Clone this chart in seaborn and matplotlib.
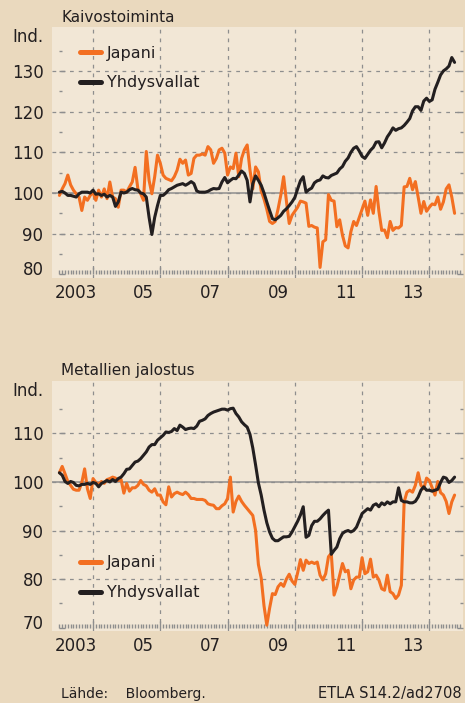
import numpy as np
import pandas as pd
import matplotlib
matplotlib.use("Agg")
import matplotlib.pyplot as plt
import matplotlib.transforms as mtransforms
from matplotlib.ticker import FixedLocator
import seaborn as sns

# Kuukausittaiset indeksit 1/2003 - 10/2014, luettu kuvasta
kaivos_japani = (
    [99.4, 101.0, 102.3, 104.4, 102.0, 100.7, 99.8, 99.0, 95.7, 99.0, 98.2, 99.4]
    + [100.2, 98.2, 100.7, 99.0, 101.0, 98.6, 102.7, 99.0, 98.6, 96.5, 100.7, 100.7]
    + [100.2, 101.5, 102.7, 106.3, 101.0, 99.8, 98.2, 110.2, 103.1, 99.8, 104.0, 109.3]
    + [107.3, 104.4, 103.6, 103.3, 103.0, 104.0, 105.6, 108.3, 107.3, 108.1, 104.4, 104.8]
    + [108.5, 109.3, 109.3, 109.6, 109.3, 111.4, 110.6, 107.3, 108.5, 110.6, 111.0, 109.8]
    + [104.4, 106.4, 106.0, 109.8, 104.0, 108.5, 110.6, 111.8, 105.6, 101.0, 106.4, 105.2]
    + [100.5, 98.5, 96.0, 93.0, 92.5, 93.0, 96.0, 99.5, 104.0, 98.0, 92.5, 94.5]
    + [95.5, 96.5, 98.0, 97.8, 97.5, 91.8, 92.0, 91.6, 91.4, 81.7, 88.0, 88.5]
    + [99.6, 98.2, 98.0, 91.7, 93.4, 89.6, 87.0, 86.5, 90.5, 93.0, 92.0, 94.0]
    + [96.0, 98.0, 94.5, 98.3, 95.0, 101.6, 95.5, 90.8, 90.9, 89.0, 93.0, 90.8]
    + [91.5, 91.4, 92.0, 101.5, 101.6, 103.6, 100.8, 102.8, 99.0, 95.0, 97.9, 95.5]
    + [96.5, 97.3, 97.1, 99.0, 96.0, 97.8, 101.0, 102.0, 99.0, 95.0]
)
kaivos_usa = (
    [100.2, 100.4, 100.0, 99.4, 99.4, 99.2, 99.0, 99.8, 100.2, 100.2, 100.2, 100.0]
    + [100.7, 99.7, 99.8, 99.4, 99.7, 99.0, 99.4, 99.0, 96.7, 97.8, 100.2, 100.0]
    + [100.2, 100.8, 101.1, 100.8, 100.7, 100.0, 99.8, 99.0, 94.0, 89.8, 94.0, 96.9]
    + [99.4, 99.4, 100.0, 100.8, 101.1, 101.5, 101.9, 102.1, 102.3, 101.9, 102.3, 102.8]
    + [102.3, 100.5, 100.2, 100.2, 100.2, 100.4, 100.8, 101.1, 101.0, 101.1, 102.7, 103.8]
    + [102.5, 103.1, 103.6, 103.5, 104.4, 105.4, 104.8, 103.1, 97.8, 102.3, 104.2, 103.1]
    + [101.9, 100.0, 97.8, 95.7, 93.7, 93.4, 93.9, 94.5, 95.5, 96.1, 96.9, 97.8]
    + [98.9, 101.0, 103.0, 104.0, 100.2, 100.8, 101.2, 102.5, 103.0, 103.2, 104.2, 103.8]
    + [103.7, 104.3, 104.6, 104.9, 105.9, 106.5, 107.8, 108.6, 110.0, 111.0, 111.4, 110.3]
    + [109.0, 108.5, 109.5, 110.5, 111.2, 112.5, 112.6, 111.1, 112.3, 113.8, 114.8, 116.0]
    + [115.4, 115.8, 116.0, 116.6, 117.4, 118.3, 120.2, 121.2, 121.2, 120.3, 122.6, 123.3]
    + [122.5, 122.9, 125.5, 127.2, 129.0, 130.0, 130.5, 131.2, 133.3, 132.1]
)
metalli_japani = (
    [101.9, 103.2, 101.7, 100.1, 99.3, 98.5, 98.3, 98.3, 99.9, 102.7, 98.6, 96.6]
    + [100.7, 99.9, 99.5, 100.1, 99.7, 100.5, 100.7, 101.0, 100.8, 100.3, 100.5, 97.7]
    + [99.7, 98.1, 98.8, 98.8, 99.3, 100.3, 99.5, 99.2, 98.3, 97.9, 98.6, 97.3]
    + [97.3, 95.9, 95.3, 99.0, 96.9, 97.6, 97.9, 97.6, 97.4, 97.9, 97.4, 96.6]
    + [96.6, 96.4, 96.4, 96.4, 96.2, 95.5, 95.3, 95.2, 94.5, 94.5, 95.1, 95.5]
    + [96.6, 101.0, 93.8, 96.0, 97.1, 96.0, 95.2, 94.5, 93.8, 93.1, 90.0, 83.0]
    + [80.2, 74.5, 70.5, 74.0, 77.0, 76.8, 78.4, 79.1, 78.5, 80.0, 81.0, 79.6]
    + [78.9, 81.3, 84.0, 81.8, 83.9, 83.2, 83.5, 83.2, 83.5, 80.8, 79.8, 81.1]
    + [84.6, 85.3, 76.7, 78.4, 80.8, 83.2, 81.5, 81.8, 78.0, 79.8, 80.4, 80.4]
    + [84.4, 81.1, 81.5, 84.1, 80.4, 80.8, 79.8, 78.0, 77.7, 80.8, 77.4, 77.0]
    + [76.0, 76.7, 78.7, 95.9, 97.9, 98.3, 97.9, 99.3, 101.9, 99.3, 98.6, 100.8]
    + [100.3, 98.8, 97.3, 100.1, 97.8, 97.3, 96.0, 93.5, 95.9, 97.3]
)
metalli_usa = (
    [101.9, 101.4, 100.1, 99.7, 100.1, 99.9, 99.3, 99.2, 99.5, 99.5, 99.7, 99.5]
    + [99.9, 99.7, 99.0, 99.7, 100.0, 100.3, 100.0, 100.5, 100.1, 100.7, 101.0, 101.7]
    + [102.6, 102.7, 103.4, 104.1, 104.3, 104.8, 105.5, 106.2, 107.2, 107.7, 107.7, 108.6]
    + [109.1, 109.6, 110.3, 110.2, 110.4, 111.0, 110.6, 111.7, 111.3, 110.8, 111.0, 111.1]
    + [111.0, 111.5, 112.5, 112.7, 113.0, 113.7, 114.1, 114.4, 114.6, 114.8, 115.0, 115.0]
    + [114.8, 115.1, 115.2, 114.1, 113.4, 112.4, 111.8, 111.3, 109.8, 107.0, 103.5, 99.8]
    + [97.3, 94.2, 91.6, 89.7, 88.4, 87.9, 87.9, 88.3, 88.7, 88.7, 88.8, 89.7]
    + [90.8, 91.9, 93.2, 94.9, 88.6, 89.0, 91.0, 91.9, 91.9, 92.4, 93.1, 93.7]
    + [94.2, 85.1, 85.9, 86.6, 88.3, 89.4, 89.8, 90.0, 89.7, 90.0, 90.7, 92.1]
    + [93.5, 94.0, 94.5, 94.2, 95.2, 95.5, 94.9, 95.7, 95.3, 95.9, 95.5, 95.9]
    + [95.9, 98.8, 96.2, 95.9, 95.9, 95.7, 95.7, 96.0, 96.9, 98.3, 99.0, 98.3]
    + [98.3, 98.1, 98.3, 98.5, 99.9, 101.0, 100.8, 99.9, 100.3, 101.0]
)

sarjat = ["Japani", "Yhdysvallat"]
alkuvuosi = 2003
vuosiviivat = [2004, 2006, 2008, 2010, 2012, 2014]
vuosi_nimet = ["2003", "05", "07", "09", "11", "13"]
perustaso = 100

kaivos_yt = [80, 90, 100, 110, 120, 130]
kaivos_yt_pienet = [85, 95, 105, 115, 125, 135]
metalli_yt = [70, 80, 90, 100, 110]
metalli_yt_pienet = [75, 85, 95, 105, 115]

TAUSTA = "#EAD9BE"
ALUE = "#F2E7D6"
ORANSSI = "#F36F21"
MUSTA = "#231F20"
HARMAA = "#8E8E8E"
TEKSTI = "#231F20"

sns.set_theme(style="white")
plt.rcParams["font.family"] = ["DejaVu Sans"]

W, H = 465, 703
fig = plt.figure(figsize=(W / 100, H / 100), dpi=100)
fig.patch.set_facecolor(TAUSTA)

ax1 = fig.add_axes([52 / W, 1 - 278 / H, 411 / W, 251 / H])
ax2 = fig.add_axes([52 / W, 1 - 631 / H, 411 / W, 250 / H])


def paneeli(ax, japani, usa, ylim, yt, yt_pienet, leg_y):
    n = len(japani)
    kk = alkuvuosi + np.arange(n) / 12
    df = pd.DataFrame({
        "kk": np.tile(kk, 2),
        "ind": np.concatenate([japani, usa]),
        "maa": [sarjat[0]] * n + [sarjat[1]] * n,
    })
    sns.lineplot(data=df, x="kk", y="ind", hue="maa", hue_order=sarjat,
                 palette=[ORANSSI, MUSTA], linewidth=2.2, ax=ax)

    ax.set_facecolor(ALUE)
    ax.set_xlim(2002.78, 2015.0)
    ax.set_ylim(*ylim)
    ax.set_xlabel("")
    ax.set_ylabel("")
    for s in ax.spines.values():
        s.set_visible(False)
    ax.spines["left"].set_position(("data", alkuvuosi))
    ax.spines["bottom"].set_position(("data", yt[0]))

    # akselit
    ax.yaxis.set_major_locator(FixedLocator(yt))
    ax.yaxis.set_minor_locator(FixedLocator(yt_pienet))
    ax.xaxis.set_major_locator(FixedLocator(vuosiviivat))
    ax.xaxis.set_minor_locator(FixedLocator(alkuvuosi + np.arange(0, 144) / 12))
    ax.set_xticklabels(vuosi_nimet)

    ax.tick_params(axis="y", which="both", direction="in", left=True, right=True,
                   color=HARMAA, width=1.0, labelsize=12, labelcolor=TEKSTI, pad=11.5)
    ax.tick_params(axis="y", which="major", length=4.5)
    ax.tick_params(axis="y", which="minor", length=2.5)
    ax.tick_params(axis="x", which="both", direction="in", bottom=True, top=False,
                   color=HARMAA, width=1.0, labelsize=12, labelcolor=TEKSTI, pad=7)
    ax.tick_params(axis="x", which="major", length=5)
    ax.tick_params(axis="x", which="minor", length=2.8)

    ax.grid(True, which="major", axis="both", color=HARMAA,
            linestyle=(0, (3, 4)), linewidth=0.9)
    ax.yaxis.get_major_ticks()[0].gridline.set_visible(False)
    ax.axhline(perustaso, color=HARMAA, linewidth=1.1, zorder=1.5)

    # selite
    vanha = ax.get_legend()
    kahvat = vanha.legend_handles
    leg = ax.legend(kahvat, sarjat, loc="upper left", bbox_to_anchor=(0.068, leg_y),
                    frameon=False, fontsize=11.5, handlelength=1.3,
                    handletextpad=0.38, labelspacing=0.92, borderpad=0,
                    borderaxespad=0)
    for h in leg.get_lines():
        h.set_linewidth(3.6)
    for t in leg.get_texts():
        t.set_color(TEKSTI)

    # vuosiluvut puolen vuoden kohdalle, alin y-luku hieman ylös
    siirto_x = mtransforms.ScaledTranslation(-0.1675, 0, fig.dpi_scale_trans)
    for lbl in ax.get_xticklabels():
        lbl.set_transform(lbl.get_transform() + siirto_x)
    siirto_y = mtransforms.ScaledTranslation(0, 0.06, fig.dpi_scale_trans)
    alin = ax.yaxis.get_major_ticks()[0].label1
    alin.set_transform(alin.get_transform() + siirto_y)


paneeli(ax1, kaivos_japani, kaivos_usa, (79.1, 140.8),
        kaivos_yt, kaivos_yt_pienet, 0.926)
paneeli(ax2, metalli_japani, metalli_usa, (69.3, 120.8),
        metalli_yt, metalli_yt_pienet, 0.302)

fig.text(61 / W, 1 - 21.7 / H, "Kaivostoiminta", fontsize=11, color=TEKSTI, va="baseline")
fig.text(12.5 / W, 1 - 41.7 / H, "Ind.", fontsize=12, color=TEKSTI, va="baseline")
fig.text(61 / W, 1 - 375 / H, "Metallien jalostus", fontsize=11, color=TEKSTI, va="baseline")
fig.text(12.5 / W, 1 - 395.7 / H, "Ind.", fontsize=12, color=TEKSTI, va="baseline")
fig.text(61 / W, 1 - 698 / H, "Lähde:    Bloomberg.", fontsize=10, color=TEKSTI, va="baseline")
fig.text(462 / W, 1 - 698 / H, "ETLA S14.2/ad2708", fontsize=10.5, color=TEKSTI,
         va="baseline", ha="right")

fig.savefig("out.png", dpi=100, facecolor=TAUSTA)
